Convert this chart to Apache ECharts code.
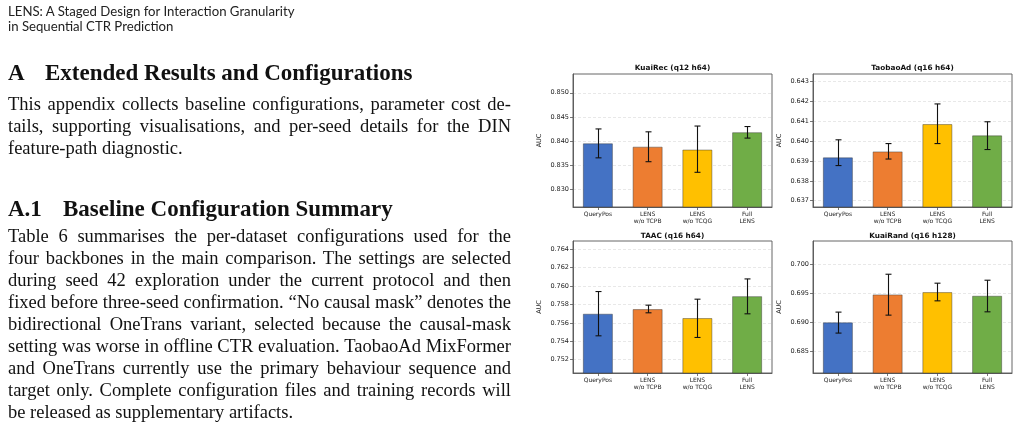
<!DOCTYPE html>
<html>
<head>
<meta charset="utf-8">
<script src="https://cdn.jsdelivr.net/npm/echarts@6/dist/echarts.min.js"></script>
<style>
html, body { margin: 0; padding: 0; background: #fff; width: 1019px; height: 422px; overflow: hidden; }
#main { position: absolute; left: 0; top: 0; width: 1019px; height: 422px; }
.hdr { position: absolute; left: 8px; font-family: Lato, sans-serif; font-size: 13.2px; line-height: 15.3px; color: #222; white-space: nowrap; }
.h1 { position: absolute; left: 8px; font-family: "Liberation Serif", serif; font-weight: bold; font-size: 23px; line-height: 24px; color: #111; white-space: nowrap; }
.h1 span { display: inline-block; }
.para { position: absolute; left: 8px; width: 503px; font-family: "Liberation Serif", serif; font-size: 18.5px; line-height: 22px; color: #111; }
.para div { text-align: justify; text-align-last: justify; white-space: nowrap; }
.para div.last { text-align-last: left; }
</style>
</head>
<body>
<div id="main"></div>

<div class="hdr" style="top:4px">LENS: A Staged Design for Interaction Granularity<br>in Sequential CTR Prediction</div>

<div class="h1" style="top:61.2px"><span style="width:37px">A</span>Extended Results and Configurations</div>
<div class="para" style="top:92.8px">
  <div>This appendix collects baseline configurations, parameter cost de-</div>
  <div>tails, supporting visualisations, and per-seed details for the DIN</div>
  <div class="last">feature-path diagnostic.</div>
</div>

<div class="h1" style="top:196.7px"><span style="width:55px">A.1</span>Baseline Configuration Summary</div>
<div class="para" style="top:225.1px">
  <div>Table 6 summarises the per-dataset configurations used for the</div>
  <div>four backbones in the main comparison. The settings are selected</div>
  <div>during seed 42 exploration under the current protocol and then</div>
  <div>fixed before three-seed confirmation. “No causal mask” denotes the</div>
  <div>bidirectional OneTrans variant, selected because the causal-mask</div>
  <div>setting was worse in offline CTR evaluation. TaobaoAd MixFormer</div>
  <div>and OneTrans currently use the primary behaviour sequence and</div>
  <div>target only. Complete configuration files and training records will</div>
  <div class="last">be released as supplementary artifacts.</div>
</div>

<script>
// categories and colours shared by all four panels
var categories = ['QueryPos', 'LENS\nw/o TCPB', 'LENS\nw/o TCQG', 'Full\nLENS'];
var barColors = ['#4472C4', '#ED7D31', '#FFC000', '#70AD47'];

// KuaiRec (q12 h64)
var kuaiRecAuc  = [0.8395, 0.8388, 0.8382, 0.8418];
var kuaiRecLow  = [0.8365, 0.8357, 0.8335, 0.8406];
var kuaiRecHigh = [0.8425, 0.8419, 0.8431, 0.8430];
var kuaiRecTicks = [0.830, 0.835, 0.840, 0.845, 0.850];

// TaobaoAd (q16 h64)
var taobaoAuc  = [0.63918, 0.63948, 0.64086, 0.64029];
var taobaoLow  = [0.63877, 0.63910, 0.63988, 0.63958];
var taobaoHigh = [0.64007, 0.63988, 0.64188, 0.64098];
var taobaoTicks = [0.637, 0.638, 0.639, 0.640, 0.641, 0.642, 0.643];

// TAAC (q16 h64)
var taacAuc  = [0.75699, 0.75749, 0.75652, 0.75890];
var taacLow  = [0.75460, 0.75710, 0.75442, 0.75699];
var taacHigh = [0.75941, 0.75793, 0.75858, 0.76078];
var taacTicks = [0.752, 0.754, 0.756, 0.758, 0.760, 0.762, 0.764];

// KuaiRand (q16 h128)
var kuaiRandAuc  = [0.68998, 0.69479, 0.69519, 0.69456];
var kuaiRandLow  = [0.68815, 0.69124, 0.69370, 0.69181];
var kuaiRandHigh = [0.69176, 0.69828, 0.69674, 0.69725];
var kuaiRandTicks = [0.685, 0.690, 0.695, 0.700];

var panels = [
  { title: 'KuaiRec (q12 h64)', auc: kuaiRecAuc, low: kuaiRecLow, high: kuaiRecHigh, ticks: kuaiRecTicks,
    min: 0.8263, max: 0.8539, left: 573, top: 74, height: 133, titleY: 68.3 },
  { title: 'TaobaoAd (q16 h64)', auc: taobaoAuc, low: taobaoLow, high: taobaoHigh, ticks: taobaoTicks,
    min: 0.63668, max: 0.64339, left: 813, top: 74, height: 133, titleY: 68.3 },
  { title: 'TAAC (q16 h64)', auc: taacAuc, low: taacLow, high: taacHigh, ticks: taacTicks,
    min: 0.75056, max: 0.7649, left: 573, top: 241, height: 132, titleY: 235.7 },
  { title: 'KuaiRand (q16 h128)', auc: kuaiRandAuc, low: kuaiRandLow, high: kuaiRandHigh, ticks: kuaiRandTicks,
    min: 0.68128, max: 0.704, left: 813, top: 241, height: 132, titleY: 235.7 }
];

var FONT = '"DejaVu Sans", sans-serif';
var PW = 199;

var grids = [], xAxes = [], yAxes = [], series = [], graphics = [];

panels.forEach(function (p, i) {
  grids.push({
    left: p.left, top: p.top, width: PW, height: p.height,
    show: true, borderColor: '#555', borderWidth: 0.9, backgroundColor: 'transparent'
  });
  xAxes.push({
    type: 'category', gridIndex: i, data: categories,
    axisLine: { show: true, lineStyle: { color: '#555', width: 0.9 } },
    axisTick: { show: true, alignWithLabel: true, length: 3, lineStyle: { color: '#555', width: 0.8 } },
    axisLabel: { fontSize: 6, lineHeight: 7.2, color: '#222', fontFamily: FONT, margin: 4, interval: 0 },
    splitLine: { show: false }
  });
  yAxes.push({
    type: 'value', gridIndex: i, min: p.min, max: p.max,
    name: 'AUC', nameLocation: 'middle', nameGap: 30,
    nameTextStyle: { fontSize: 6.5, color: '#222', fontFamily: FONT },
    axisLine: { show: true, lineStyle: { color: '#555', width: 0.9 } },
    axisTick: { show: true, length: 3, customValues: p.ticks, lineStyle: { color: '#555', width: 0.8 } },
    axisLabel: {
      fontSize: 6.5, color: '#222', fontFamily: FONT, margin: 4, customValues: p.ticks,
      formatter: function (v) { return v.toFixed(3); }
    },
    splitLine: { show: true, lineStyle: { color: '#e2e2e2', width: 0.8, type: [3, 2] } }
  });
  series.push({
    type: 'bar', xAxisIndex: i, yAxisIndex: i, barWidth: '60%', clip: true,
    data: p.auc.map(function (v, k) {
      return { value: v, itemStyle: { color: barColors[k] } };
    }),
    itemStyle: { borderColor: 'rgba(50,50,50,0.55)', borderWidth: 0.8 },
    animation: false, silent: true
  });
  series.push({
    type: 'custom', xAxisIndex: i, yAxisIndex: i, z: 5,
    data: p.auc.map(function (v, k) { return [k, p.low[k], p.high[k]]; }),
    encode: { x: 0, y: [1, 2] },
    renderItem: function (params, api) {
      var hi = api.coord([api.value(0), api.value(2)]);
      var lo = api.coord([api.value(0), api.value(1)]);
      var x = Math.round(hi[0]) + 0.5;
      var cap = 3;
      var st = { stroke: '#111', lineWidth: 1.1 };
      return {
        type: 'group',
        children: [
          { type: 'line', shape: { x1: x, y1: hi[1], x2: x, y2: lo[1] }, style: st },
          { type: 'line', shape: { x1: x - cap, y1: hi[1], x2: x + cap, y2: hi[1] }, style: st },
          { type: 'line', shape: { x1: x - cap, y1: lo[1], x2: x + cap, y2: lo[1] }, style: st }
        ]
      };
    },
    animation: false, silent: true
  });
  graphics.push({
    type: 'text', x: p.left + PW / 2, y: p.titleY,
    style: { text: p.title, fill: '#111', font: 'bold 7.3px ' + FONT, align: 'center', verticalAlign: 'middle' }
  });
});

var chart = echarts.init(document.getElementById('main'), null, { renderer: 'canvas' });
chart.setOption({
  animation: false,
  grid: grids,
  xAxis: xAxes,
  yAxis: yAxes,
  series: series,
  graphic: graphics
});
</script>
</body>
</html>
